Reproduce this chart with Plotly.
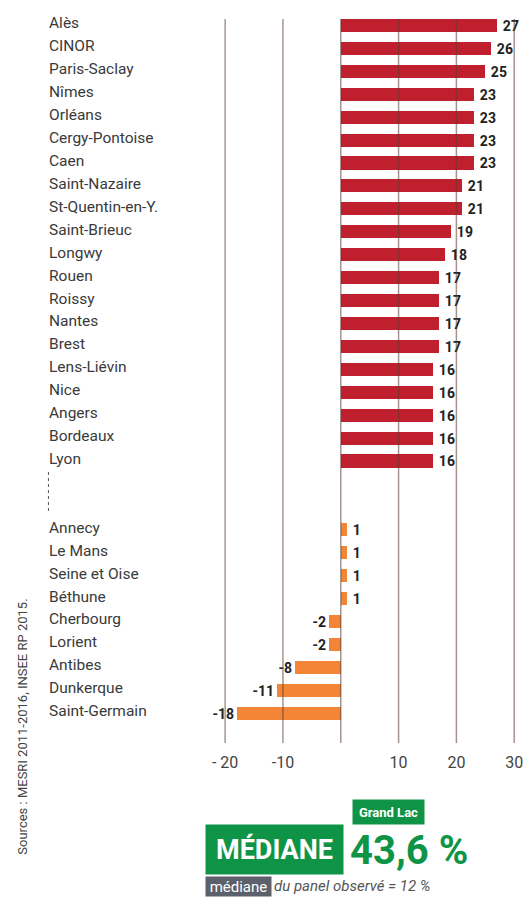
import plotly.graph_objects as go

top_names = ["Alès", "CINOR", "Paris-Saclay", "Nîmes", "Orléans", "Cergy-Pontoise", "Caen",
             "Saint-Nazaire", "St-Quentin-en-Y.", "Saint-Brieuc", "Longwy", "Rouen", "Roissy",
             "Nantes", "Brest", "Lens-Liévin", "Nice", "Angers", "Bordeaux", "Lyon"]
top_values = [27, 26, 25, 23, 23, 23, 23, 21, 21, 19, 18, 17, 17, 17, 17, 16, 16, 16, 16, 16]

bottom_names = ["Annecy", "Le Mans", "Seine et Oise", "Béthune", "Cherbourg", "Lorient",
                "Antibes", "Dunkerque", "Saint-Germain"]
bottom_values = [1, 1, 1, 1, -2, -2, -8, -11, -18]

tick_values = [-20, -10, 0, 10, 20, 30]
tick_labels = ["- 20", "-10", "", "10", "20", "30"]

source_text = "Sources : MESRI 2011-2016, INSEE RP 2015."
badge_text = "Grand Lac"
median_title = "MÉDIANE"
median_value = "43,6 %"
panel_tag = "médiane"
panel_text = "du panel observé = 12 %"

RED = "#c01f2e"
ORANGE = "#f28636"
GREEN = "#0f9447"
GRAY_BOX = "#5b606a"
TEXT = "#3a3a3a"
FONT = "Roboto, sans-serif"

W, H = 526, 898
ML, MR, MT, MB = 202, 3, 19, 155
PW = W - ML - MR
PH = H - MT - MB

GAP = 2
top_pos = list(range(len(top_names)))
bottom_pos = [len(top_names) + GAP + i for i in range(len(bottom_names))]
last = bottom_pos[-1]


def px_x(px):
    return (px - ML) / PW


def px_y(py):
    return (H - MB - py) / PH


def fmt(v):
    return ("\u2009<b>%d</b>" % v) if v > 0 else ("<b>%d</b>" % v)


fig = go.Figure()
for pos, vals, col in ((top_pos, top_values, RED), (bottom_pos, bottom_values, ORANGE)):
    fig.add_trace(go.Bar(
        y=pos, x=vals, orientation="h", marker=dict(color=col, line=dict(width=0)),
        width=0.57, text=[fmt(v) for v in vals], textposition="outside",
        textfont=dict(family=FONT, size=14, color="#222"), constraintext="none",
        cliponaxis=False, hoverinfo="skip"))

shapes = []
for tv in tick_values:
    shapes.append(dict(type="line", xref="x", yref="paper", x0=tv, x1=tv, y0=0, y1=1,
                       line=dict(color="rgba(90,60,50,0.55)", width=1.5), layer="above"))
# dotted separator between the two groups
shapes.append(dict(type="line", xref="paper", yref="y", x0=px_x(47), x1=px_x(47),
                   y0=len(top_names) - 0.52, y1=len(top_names) + GAP - 0.82,
                   line=dict(color="#555", width=1, dash="dot")))

annotations = []
for name, p in zip(top_names + bottom_names, top_pos + bottom_pos):
    annotations.append(dict(xref="paper", yref="y", x=px_x(46), y=p, text=name,
                            xanchor="left", yanchor="middle", showarrow=False,
                            font=dict(family=FONT, size=15.5, color=TEXT), yshift=2))

annotations.append(dict(xref="paper", yref="paper", x=px_x(20), y=px_y(727), text=source_text,
                        textangle=-90, showarrow=False, xanchor="center", yanchor="middle",
                        font=dict(family=FONT, size=13, color="#444")))
annotations.append(dict(xref="paper", yref="paper", x=px_x(353), y=px_y(799),
                        text="<b>" + badge_text + "</b>",
                        showarrow=False, xanchor="left", yanchor="top", bgcolor=GREEN,
                        width=71, height=24, borderpad=0,
                        font=dict(family=FONT, size=13, color="white")))
annotations.append(dict(xref="paper", yref="paper", x=px_x(205), y=px_y(824),
                        text="<b>" + median_title + "</b>",
                        showarrow=False, xanchor="left", yanchor="top", bgcolor=GREEN,
                        width=137, height=49, borderpad=0,
                        font=dict(family=FONT, size=27, color="white")))
annotations.append(dict(xref="paper", yref="paper", x=px_x(349), y=px_y(850),
                        text="<b>" + median_value + "</b>",
                        showarrow=False, xanchor="left", yanchor="middle",
                        font=dict(family=FONT, size=40, color=GREEN)))
annotations.append(dict(xref="paper", yref="paper", x=px_x(205), y=px_y(876), text=panel_tag,
                        showarrow=False, xanchor="left", yanchor="top", bgcolor=GRAY_BOX,
                        width=65, height=19, borderpad=0,
                        font=dict(family=FONT, size=15, color="white")))
annotations.append(dict(xref="paper", yref="paper", x=px_x(273), y=px_y(885.5),
                        text="<i>" + panel_text + "</i>",
                        showarrow=False, xanchor="left", yanchor="middle",
                        font=dict(family=FONT, size=15, color="#555")))

fig.update_layout(
    width=W, height=H, margin=dict(l=ML, r=MR, t=MT, b=MB),
    paper_bgcolor="white", plot_bgcolor="white", showlegend=False, bargap=0,
    shapes=shapes, annotations=annotations,
    xaxis=dict(range=[-24, 31], tickvals=tick_values, ticktext=tick_labels, showgrid=False,
               zeroline=False, showline=False, ticks="", ticklabelstandoff=8,
               ticklabeloverflow="allow",
               tickfont=dict(family=FONT, size=16, color="#444"), fixedrange=True),
    yaxis=dict(range=[last + 1.3, -0.28],
               showticklabels=False, showgrid=False, zeroline=False, showline=False,
               ticks="", fixedrange=True),
)

fig.write_html(
    "out.html",
    config={"displayModeBar": False},
    post_script="document.body.style.margin='0';document.body.style.overflow='hidden';",
)
